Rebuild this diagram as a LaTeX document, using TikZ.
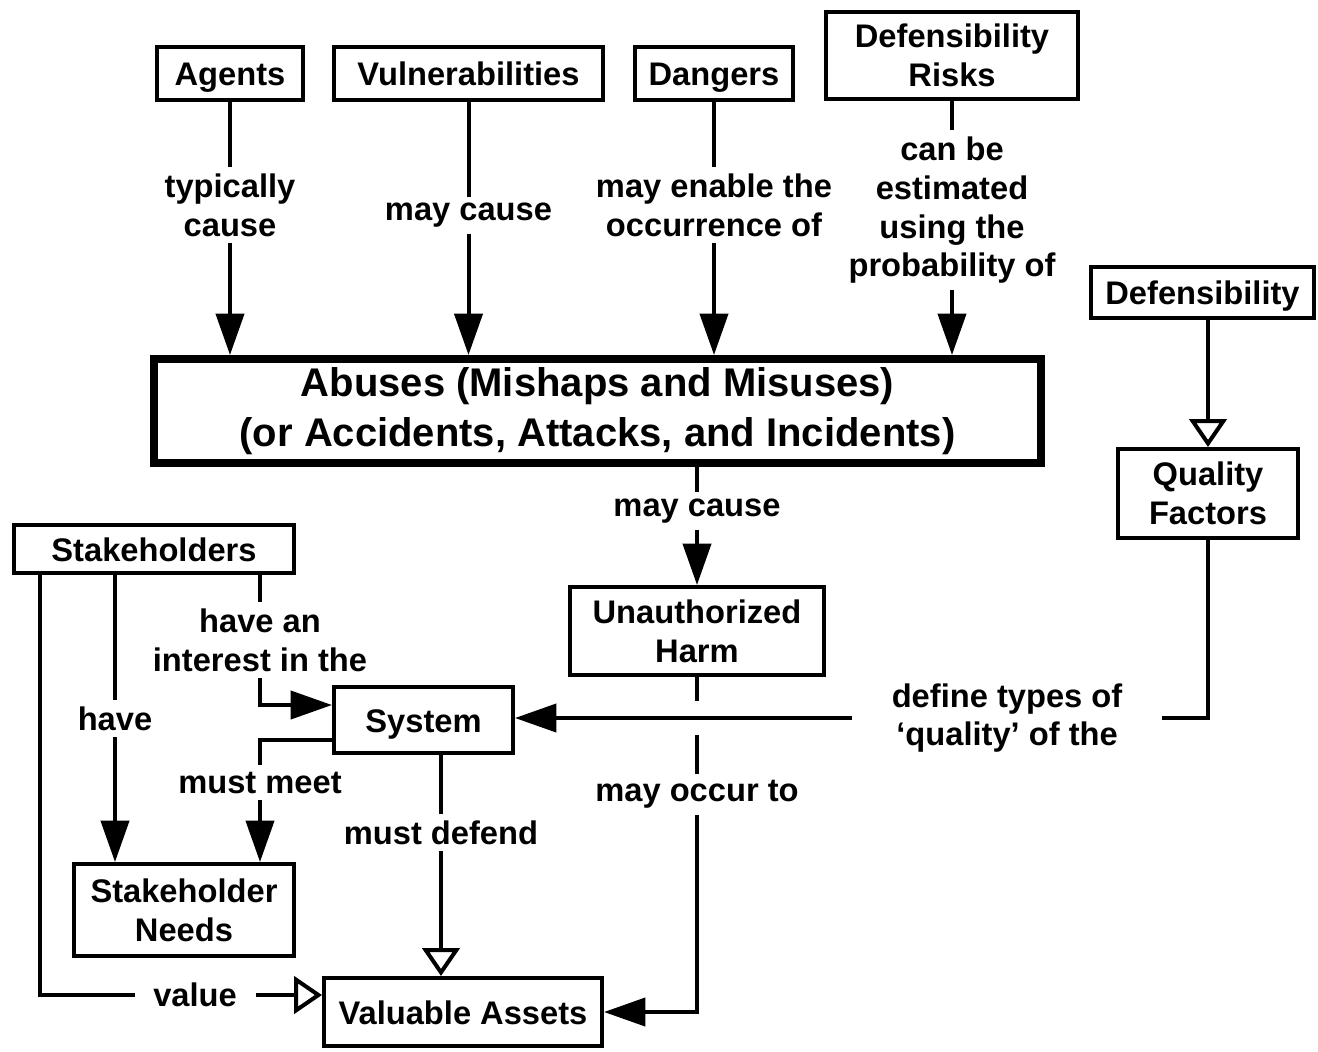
\documentclass[tikz,border=0pt]{standalone}
\usepackage{fontspec}
\setmainfont{Liberation Sans}
\usetikzlibrary{arrows.meta}
\newcommand{\boxfont}{\fontsize{24.5}{29}\selectfont\bfseries}
\newcommand{\bigfont}{\fontsize{30}{38}\selectfont\bfseries}

\begin{document}
\begin{tikzpicture}[x=0.75pt, y=-0.75pt,
        box/.style={draw, line width=3pt, align=center, font=\boxfont, inner sep=0pt},
        oneline/.style={text height=18pt, text depth=0pt},
        lbl/.style={fill=white, align=center, font=\boxfont, inner xsep=2pt, inner ysep=5pt},
        dim/.style 2 args={minimum width=#1*0.75pt, minimum height=#2*0.75pt},
        tip/.style={line width=3pt, -{Triangle[length=31pt,width=21pt]}},
        hollow/.style={line width=3pt, -{Triangle[open,length=21pt,width=28pt]}}]
    \useasboundingbox (0,0) rectangle (1318,1051);
    % top row
    \node[box, oneline, dim={146}{53}] (agents) at (230,73) {Agents};
    \node[box, oneline, dim={269}{53}] (vuln) at (468.5,73) {Vulnerabilities};
    \node[box, oneline, dim={158}{53}] (dangers) at (714,73) {Dangers};
    \node[box, dim={252}{87}] (risks) at (952,55.5) {Defensibility\\Risks};
    % central box
    \node[box, line width=6pt, font=\bigfont, dim={887}{104}] (abuses) at (597.5,411)
        {Abuses (Mishaps and Misuses)\\(or Accidents, Attacks, and Incidents)};
    % right column
    \node[box, oneline, dim={223}{51}] (defens) at (1202.5,292.5) {Defensibility};
    \node[box, dim={180}{89}] (qf) at (1208,493.5) {Quality\\Factors};
    % lower part
    \node[box, oneline, dim={280}{48}] (stake) at (154,549) {Stakeholders};
    \node[box, dim={254}{88}] (harm) at (697,631) {Unauthorized\\Harm};
    \node[box, oneline, dim={179}{66}] (system) at (423.5,720) {System};
    \node[box, dim={220}{92}] (needs) at (184,910) {Stakeholder\\Needs};
    \node[box, oneline, dim={278}{68}] (assets) at (463,1012) {Valuable Assets};

    % bends of the connectors
    \coordinate (vbend) at (40,995);
    \coordinate (hcol) at (115,0);
    \coordinate (ibend) at (260,705);
    \coordinate (mbend) at (260,740);
    \coordinate (dcol) at (441,0);
    \coordinate (qbend) at (1208,718);
    \coordinate (hbend) at (697,1012);
    \coordinate (cross) at (harm |- qbend);

    % into the abuses
    \draw[tip] (agents) -- node[lbl, pos=0.41] {typically\\cause} (agents |- abuses.north);
    \draw[tip] (vuln) -- node[lbl, pos=0.45] {may cause} (vuln |- abuses.north);
    \draw[tip] (dangers) -- node[lbl, pos=0.41] {may enable the\\occurrence of} (dangers |- abuses.north);
    \draw[tip] (risks) -- node[lbl, pos=0.43] {can be\\estimated\\using the\\probability of} (risks |- abuses.north);
    \draw[tip] (harm |- abuses.south) -- node[lbl, pos=0.37] {may cause} (harm);

    % stakeholders
    \draw[hollow] (vbend |- stake.south) -- (vbend) -- node[lbl, inner xsep=14pt, pos=0.55] {value} (vbend -| assets.west);
    \draw[tip] (hcol |- stake.south) -- node[lbl] {have} (hcol |- needs.north);
    \draw[tip] (ibend |- stake.south) -- node[lbl] {have an\\interest in the} (ibend) -- (ibend -| system.west);

    % system
    \draw[tip] (mbend -| system.west) -- (mbend) -- node[lbl, pos=0.35] {must meet} (mbend |- needs.north);
    \draw[hollow] (dcol |- system.south) -- node[lbl, pos=0.35] {must defend} (dcol |- assets.north);

    % harm to assets
    \draw[tip] (harm) -- node[lbl, pos=0.35] {may occur to} (hbend) -- (hbend -| assets.east);
    \draw[white, line width=8pt] ([yshift=13pt]cross) -- ([yshift=-13pt]cross);

    % quality
    \draw[hollow] (qf |- defens.south) -- (qf);
    \draw[tip] (qf) -- (qbend) -- node[lbl, inner xsep=30pt, pos=0.29] {define types of\\‘quality’ of the} (qbend -| system.east);
\end{tikzpicture}
\end{document}
